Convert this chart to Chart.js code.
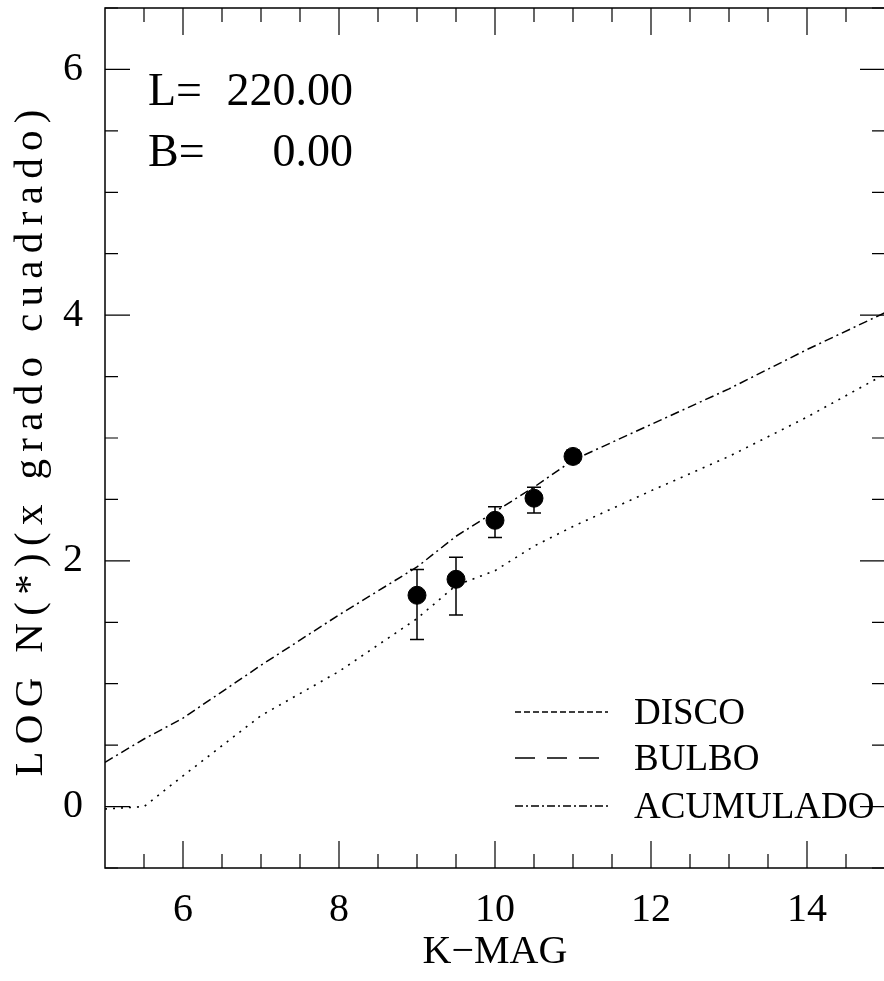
<!DOCTYPE html>
<html>
<head>
<meta charset="utf-8">
<script src="https://cdn.jsdelivr.net/npm/chart.js@4.4.0/dist/chart.umd.min.js"></script>
<style>
html, body { margin: 0; padding: 0; background: #fff; overflow: hidden; }
#wrap { width: 890px; height: 981px; }
</style>
</head>
<body>
<div id="wrap"><canvas id="chart"></canvas></div>
<script>
// model curves
const acumMag = [5, 5.5, 6, 7, 8, 9, 9.5, 10, 10.5, 11, 12, 13, 14, 15];
const acumulado = [0.36, 0.55, 0.72, 1.15, 1.56, 1.95, 2.2, 2.4, 2.6, 2.82, 3.11, 3.40, 3.72, 4.02];
const discoMag = [5, 5.5, 6, 7, 8, 9, 9.5, 10, 10.5, 11, 12, 13, 14, 15];
const disco = [-0.02, 0.0, 0.25, 0.74, 1.1, 1.53, 1.8, 1.92, 2.12, 2.28, 2.57, 2.85, 3.17, 3.52];

// observed counts with error bars
const obsMag = [9, 9.5, 10, 10.5, 11];
const obsLog = [1.72, 1.85, 2.33, 2.51, 2.85];
const obsHigh = [1.93, 2.03, 2.44, 2.60, 2.90];
const obsLow = [1.36, 1.56, 2.19, 2.39, 2.80];

// ticks
const xLabelTicks = [6, 8, 10, 12, 14];
const xMinorTicks = [5.5, 6.5, 7, 7.5, 8.5, 9, 9.5, 10.5, 11, 11.5, 12.5, 13, 13.5, 14.5];
const yLabelTicks = [0, 2, 4, 6];
const yMinorTicks = [-0.5, 0.5, 1, 1.5, 2.5, 3, 3.5, 4.5, 5, 5.5, 6.5];

const legendNames = ['DISCO', 'BULBO', 'ACUMULADO'];
const yTitle = 'LOG N(*)(x grado cuadrado)';

const SERIF = '"Liberation Serif", "Times New Roman", serif';

function pts(xs, ys) {
    return xs.map((x, i) => ({ x: x, y: ys[i] }));
}

const framePlugin = {
    id: 'frame',
    beforeDatasetsDraw(chart) {
        const ctx = chart.ctx;
        const xs = chart.scales.x, ys = chart.scales.y;
        ctx.save();
        ctx.strokeStyle = '#000';
        ctx.lineWidth = 1.5;
        obsMag.forEach((m, i) => {
            const px = xs.getPixelForValue(m);
            const top = ys.getPixelForValue(obsHigh[i]);
            const bot = ys.getPixelForValue(obsLow[i]);
            ctx.beginPath();
            ctx.moveTo(px, top); ctx.lineTo(px, bot);
            ctx.moveTo(px - 7, top); ctx.lineTo(px + 7, top);
            ctx.moveTo(px - 7, bot); ctx.lineTo(px + 7, bot);
            ctx.stroke();
        });
        ctx.restore();
    },
    afterDraw(chart) {
        const ctx = chart.ctx;
        const a = chart.chartArea;
        const xs = chart.scales.x, ys = chart.scales.y;
        ctx.save();
        ctx.strokeStyle = '#000';
        ctx.lineWidth = 1.5;
        ctx.strokeRect(a.left, a.top, a.right - a.left, a.bottom - a.top);

        ctx.lineWidth = 1.2;
        ctx.beginPath();
        const xt = (v, len) => {
            const p = xs.getPixelForValue(v);
            ctx.moveTo(p, a.bottom); ctx.lineTo(p, a.bottom - len);
            ctx.moveTo(p, a.top); ctx.lineTo(p, a.top + len);
        };
        const yt = (v, len) => {
            const p = ys.getPixelForValue(v);
            ctx.moveTo(a.left, p); ctx.lineTo(a.left + len, p);
            ctx.moveTo(a.right, p); ctx.lineTo(a.right - len, p);
        };
        xLabelTicks.forEach(v => xt(v, 27));
        xMinorTicks.forEach(v => xt(v, 14));
        yLabelTicks.forEach(v => yt(v, 25));
        yMinorTicks.forEach(v => yt(v, 13));
        ctx.stroke();

        ctx.fillStyle = '#000';

        // y axis title, spread out like the plotter font
        ctx.save();
        ctx.translate(31, 443);
        ctx.rotate(-Math.PI / 2);
        ctx.font = '41px ' + SERIF;
        ctx.textBaseline = 'middle';
        ctx.textAlign = 'left';
        const span = 667;
        const plain = ctx.measureText(yTitle).width;
        const spacing = (span - plain) / (yTitle.length - 1);
        let cx = -span / 2;
        for (const ch of yTitle) {
            ctx.fillText(ch, cx, 0);
            cx += ctx.measureText(ch).width + spacing;
        }
        ctx.restore();

        // coordinates text
        ctx.font = '46px ' + SERIF;
        ctx.textBaseline = 'alphabetic';
        ctx.textAlign = 'left';
        ctx.fillText('L=', 148, 105);
        ctx.fillText('B=', 148, 166);
        ctx.textAlign = 'right';
        ctx.fillText('220.00', 353, 105);
        ctx.fillText('0.00', 353, 166);

        // legend
        const dashes = [[6, 3], [20, 12], [8, 3, 2, 3]];
        const rows = [712, 758, 806];
        ctx.font = '37px ' + SERIF;
        ctx.textAlign = 'left';
        ctx.textBaseline = 'middle';
        ctx.lineWidth = 1.4;
        legendNames.forEach((name, i) => {
            ctx.setLineDash(dashes[i]);
            ctx.beginPath();
            ctx.moveTo(515, rows[i]);
            ctx.lineTo(608, rows[i]);
            ctx.stroke();
            ctx.setLineDash([]);
            ctx.fillText(name, 634, rows[i] + 2);
        });
        ctx.restore();
    }
};

new Chart(document.getElementById('chart'), {
    type: 'scatter',
    data: {
        datasets: [
            {
                label: 'DISCO',
                type: 'line',
                data: pts(discoMag, disco),
                borderColor: '#000',
                borderWidth: 1.6,
                borderDash: [2, 6],
                pointRadius: 0,
                tension: 0
            },
            {
                label: 'ACUMULADO',
                type: 'line',
                data: pts(acumMag, acumulado),
                borderColor: '#000',
                borderWidth: 1.5,
                borderDash: [9, 4, 2, 4],
                pointRadius: 0,
                tension: 0
            },
            {
                label: 'Observado',
                data: pts(obsMag, obsLog),
                backgroundColor: '#000',
                borderColor: '#000',
                pointRadius: 9,
                pointHoverRadius: 9
            }
        ]
    },
    options: {
        responsive: true,
        maintainAspectRatio: false,
        animation: false,
        layout: { autoPadding: false, padding: { top: 8, right: 5, left: 0, bottom: 0 } },
        plugins: {
            legend: { display: false },
            tooltip: { enabled: false }
        },
        scales: {
            x: {
                type: 'linear',
                min: 5,
                max: 15,
                afterBuildTicks: axis => { axis.ticks = xLabelTicks.map(v => ({ value: v })); },
                afterFit: axis => {
                    axis.height = 113;
                    axis.paddingLeft = 0;
                    axis.paddingRight = 0;
                },
                grid: { display: false, drawTicks: false },
                border: { display: false },
                ticks: { color: '#000', padding: 18, font: { family: SERIF, size: 40 } },
                title: {
                    display: true,
                    text: 'K\u2212MAG',
                    color: '#000',
                    font: { family: SERIF, size: 40 },
                    padding: { top: 0, bottom: 5 }
                }
            },
            y: {
                type: 'linear',
                min: -0.5,
                max: 6.5,
                afterBuildTicks: axis => { axis.ticks = yLabelTicks.map(v => ({ value: v })); },
                afterFit: axis => {
                    axis.width = 105;
                    axis.paddingTop = 0;
                    axis.paddingBottom = 0;
                },
                grid: { display: false, drawTicks: false },
                border: { display: false },
                ticks: { color: '#000', padding: 22, font: { family: SERIF, size: 40 } }
            }
        }
    },
    plugins: [framePlugin]
});
</script>
</body>
</html>
